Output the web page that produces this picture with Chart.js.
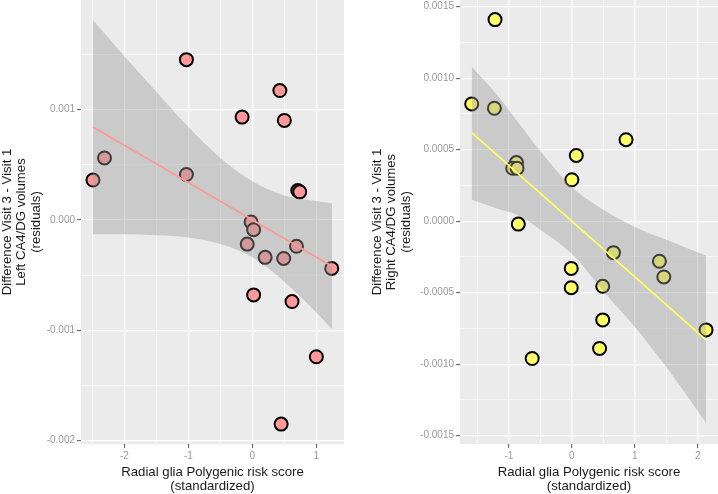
<!DOCTYPE html>
<html>
<head>
<meta charset="utf-8">
<script src="https://cdn.jsdelivr.net/npm/chart.js@4.4.1/dist/chart.umd.min.js"></script>
<style>
    html, body { margin: 0; padding: 0; background: #fff; }
    #wrap { position: relative; width: 718px; height: 494px; }
    canvas { position: absolute; top: 0; }
</style>
</head>
<body>
<div id="wrap">
    <canvas id="leftChart" width="350" height="494" style="left:0"></canvas>
    <canvas id="rightChart" width="368" height="494" style="left:350px"></canvas>
</div>
<script>
// left hemisphere
const leftScore = [-2.49, -2.31, -1.03, -1.03, -0.16, 0.43, 0.50, 0.71, 0.74, -0.02,
    0.02, -0.08, 0.20, 0.49, 0.69, 1.24, 0.02, 0.62, 1.00, 0.45];
const leftVolume = [0.00036, 0.00056, 0.00145, 0.00041, 0.00093, 0.00117, 0.00090, 0.000265, 0.000253, -0.00002,
    -0.00009, -0.00022, -0.00034, -0.00035, -0.00024, -0.00044, -0.00068, -0.00074, -0.00124, -0.00185];
const leftFitX = [-2.49, 1.245];
const leftFitY = [0.00084, -0.00042];
const leftBandX = [-2.49, -2.0, -1.5, -1.0, -0.5, 0.0, 0.5, 1.0, 1.245];
const leftBandUpper = [0.00181, 0.00148, 0.00116, 0.00084, 0.00056, 0.00035, 0.00022, 0.00017, 0.00015];
const leftBandLower = [-0.00013, -0.00013, -0.00014, -0.00016, -0.00022, -0.00034, -0.00056, -0.00084, -0.00099];
const leftXMajor = [-2, -1, 0, 1];
const leftXMinor = [-2.5, -1.5, -0.5, 0.5];
const leftYMajor = [-0.002, -0.001, 0, 0.001];
const leftYMinor = [-0.0015, -0.0005, 0.0005, 0.0015];

// right hemisphere
const rightScore = [-1.22, -1.59, -1.23, -0.88, -0.94, -0.87, -0.85, 0.07, 0.00, 0.86,
    0.66, -0.01, -0.01, 0.49, 1.39, 1.46, 0.49, 0.44, -0.63, 2.13];
const rightVolume = [0.00141, 0.00082, 0.00079, 0.00041, 0.00037, 0.00037, -0.00002, 0.00046, 0.00029, 0.00057,
    -0.00022, -0.00033, -0.000465, -0.000455, -0.00028, -0.00039, -0.00069, -0.00089, -0.00096, -0.00076];
const rightFitX = [-1.59, 2.13];
const rightFitY = [0.00062, -0.00083];
const rightBandX = [-1.59, -1.2, -0.85, -0.5, 0.0, 0.5, 1.0, 1.5, 2.13];
const rightBandUpper = [0.00108, 0.00089, 0.00069, 0.00049, 0.00024, 0.00008, -0.00004, -0.00013, -0.00024];
const rightBandLower = [0.00015, 0.00009, 0.00004, -0.00006, -0.00023, -0.00049, -0.00074, -0.00102, -0.00141];
const rightXMajor = [-1, 0, 1, 2];
const rightXMinor = [-1.5, -0.5, 0.5, 1.5];
const rightYMajor = [-0.0015, -0.001, -0.0005, 0, 0.0005, 0.001, 0.0015];
const rightYMinor = [-0.00125, -0.00075, -0.00025, 0.00025, 0.00075, 0.00125];

const xTitle = ['Radial glia Polygenic risk score', '(standardized)'];
const FONT = "'Liberation Sans', Arial, sans-serif";

const panelBackground = {
    id: 'panelBackground',
    beforeDraw(chart) {
        const {ctx, chartArea: a} = chart;
        ctx.save();
        ctx.fillStyle = '#ebebeb';
        ctx.fillRect(a.left, a.top, a.right - a.left, a.bottom - a.top);
        ctx.restore();
    }
};

function toPoints(xs, ys) {
    return xs.map((x, i) => ({x: x, y: ys[i]}));
}

/**
 * ggplot-like axis: white major + thin minor grid, ticks only on majors
 */
function makeAxis(major, minor, min, max, size, decimals, title, titlePad) {
    const isMajor = v => major.some(m => Math.abs(m - v) < 1e-9);
    return {
        type: 'linear',
        min: min,
        max: max,
        afterBuildTicks: scale => {
            scale.ticks = major.concat(minor).sort((a, b) => a - b).map(v => ({value: v}));
        },
        afterFit: scale => {
            if (scale.isHorizontal()) scale.height = size;
            else scale.width = size;
            // no extra room for overhanging labels, the panel fills the canvas
            scale.paddingTop = 0;
            scale.paddingBottom = 0;
            scale.paddingLeft = 0;
            scale.paddingRight = 0;
        },
        border: {display: false},
        grid: {
            color: '#ffffff',
            lineWidth: ctx => isMajor(ctx.tick.value) ? 1.3 : 0.6,
            tickLength: 4,
            tickWidth: 1,
            tickColor: ctx => isMajor(ctx.tick.value) ? '#555555' : 'rgba(0,0,0,0)'
        },
        ticks: {
            autoSkip: false,
            maxRotation: 0,
            padding: 2,
            color: '#9a9a9a',
            font: {family: FONT, size: 10},
            callback: v => isMajor(v) ? v.toFixed(decimals) : ''
        },
        title: {
            display: true,
            text: title,
            color: '#1a1a1a',
            font: {family: FONT, size: 13.2, lineHeight: 1.1},
            padding: {top: titlePad, bottom: 0}
        }
    };
}

function buildPanel(canvasId, d) {
    const datasets = [
        {
            data: toPoints(d.fitX, d.fitY),
            showLine: true,
            borderColor: d.color,
            borderWidth: 1.8,
            pointRadius: 0,
            order: 1
        },
        {
            data: toPoints(d.bandX, d.bandUpper),
            showLine: true,
            borderWidth: 0,
            borderColor: 'rgba(0,0,0,0)',
            pointRadius: 0,
            cubicInterpolationMode: 'monotone',
            fill: '+1',
            backgroundColor: 'rgba(153,153,153,0.4)',
            order: 2
        },
        {
            data: toPoints(d.bandX, d.bandLower),
            showLine: true,
            borderWidth: 0,
            borderColor: 'rgba(0,0,0,0)',
            pointRadius: 0,
            cubicInterpolationMode: 'monotone',
            order: 2
        },
        {
            data: toPoints(d.xs, d.ys),
            backgroundColor: d.color,
            borderColor: '#000000',
            borderWidth: 2,
            pointRadius: 6.5,
            order: 3
        }
    ];
    return new Chart(document.getElementById(canvasId), {
        type: 'scatter',
        data: {datasets: datasets},
        options: {
            responsive: false,
            animation: false,
            events: [],
            layout: {autoPadding: false, padding: {left: 0, right: d.padRight, top: 0, bottom: 0}},
            plugins: {legend: {display: false}, tooltip: {enabled: false}},
            scales: {
                x: makeAxis(d.xMajor, d.xMinor, d.xMin, d.xMax, 50, 0, xTitle, 0),
                y: makeAxis(d.yMajor, d.yMinor, d.yMin, d.yMax, d.yWidth, d.yDecimals, d.yTitle, d.yTitlePad)
            }
        },
        plugins: [panelBackground]
    });
}

window.addEventListener('load', () => {
    buildPanel('leftChart', {
        xs: leftScore, ys: leftVolume, fitX: leftFitX, fitY: leftFitY,
        bandX: leftBandX, bandUpper: leftBandUpper, bandLower: leftBandLower,
        color: '#ff9999',
        xMajor: leftXMajor, xMinor: leftXMinor, xMin: -2.677, xMax: 1.432,
        yMajor: leftYMajor, yMinor: leftYMinor, yMin: -0.00203, yMax: 0.00199,
        yDecimals: 3, yWidth: 81, yTitlePad: 0, padRight: 6,
        yTitle: ['Difference Visit 3 - Visit 1', 'Left CA4/DG volumes', '(residuals)']
    });
    buildPanel('rightChart', {
        xs: rightScore, ys: rightVolume, fitX: rightFitX, fitY: rightFitY,
        bandX: rightBandX, bandUpper: rightBandUpper, bandLower: rightBandLower,
        color: '#ffff66',
        xMajor: rightXMajor, xMinor: rightXMinor, xMin: -1.776, xMax: 2.32,
        yMajor: rightYMajor, yMinor: rightYMinor, yMin: -0.001558, yMax: 0.001547,
        yDecimals: 4, yWidth: 110, yTitlePad: 20, padRight: 0,
        yTitle: ['Difference Visit 3 - Visit 1', 'Right CA4/DG volumes', '(residuals)']
    });
});
</script>
</body>
</html>
